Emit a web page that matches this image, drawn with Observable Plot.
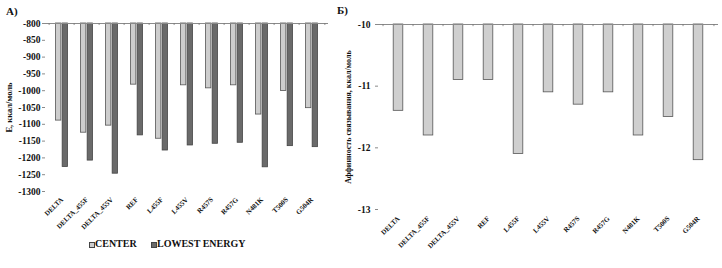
<!DOCTYPE html>
<html>
<head>
<meta charset="utf-8">
<script src="https://cdn.jsdelivr.net/npm/d3@7"></script>
<script src="https://cdn.jsdelivr.net/npm/@observablehq/plot@0.6"></script>
<style>
  html, body { margin: 0; padding: 0; background: #fff; }
  #wrap { position: relative; width: 722px; height: 268px; overflow: hidden; font-family: "Liberation Serif", serif; font-weight: bold; color: #111; }
  #wrap svg { position: absolute; top: 0; }
  .lbl { position: absolute; font-size: 10.5px; white-space: nowrap; }
  .sw { position: absolute; width: 4px; height: 4px; border: 1px solid #444; }
</style>
</head>
<body>
<div id="wrap"></div>
<script>
const categories = ["DELTA","DELTA_455F","DELTA_455V","REF","L455F","L455V","R457S","R457G","N481K","T500S","G504R"];
const seriesNames = ["CENTER","LOWEST ENERGY"];
const centerE = [-1089,-1125,-1104,-982,-1143,-984,-993,-984,-1071,-1001,-1052];
const lowestE = [-1227,-1208,-1247,-1133,-1178,-1163,-1158,-1155,-1228,-1165,-1168];
const affinity = [-11.4,-11.8,-10.9,-10.9,-12.1,-11.1,-11.3,-11.1,-11.8,-11.5,-12.2];
const yTicksA = [-800,-850,-900,-950,-1000,-1050,-1100,-1150,-1200,-1250,-1300];
const yTicksB = [-10,-11,-12,-13];

const wrap = document.getElementById("wrap");
const font = "Liberation Serif, serif";

// ---------- Panel A ----------
const dataA = [];
categories.forEach((c, i) => {
  dataA.push({cat: c, series: seriesNames[0], value: centerE[i]});
  dataA.push({cat: c, series: seriesNames[1], value: lowestE[i]});
});
const wA = 335, mlA = 45, mrA = 7;
const stepA = (wA - mlA - mrA) / categories.length;
const barWA = 6;
const insA = (stepA - barWA) / 2;

const plotA = Plot.plot({
  width: wA, height: 268,
  marginLeft: mlA, marginRight: mrA, marginTop: 23, marginBottom: 77,
  style: {fontFamily: font, fontWeight: "bold", fontSize: "10px", color: "#111", background: "transparent", overflow: "visible"},
  x: {domain: categories, padding: 0, axis: null},
  y: {domain: [-1300, -800], axis: null},
  marks: [
    Plot.barY(dataA.filter(d => d.series === seriesNames[0]), {x: "cat", y1: () => -800, y2: "value", insetLeft: insA, insetRight: insA, dx: -3.3, fill: "#cdcdcd", stroke: "#555", strokeWidth: 0.8}),
    Plot.barY(dataA.filter(d => d.series === seriesNames[1]), {x: "cat", y1: () => -800, y2: "value", insetLeft: insA, insetRight: insA, dx: 3.3, fill: "#6a6a6a", stroke: "#444", strokeWidth: 0.8}),
    Plot.ruleY([-800], {stroke: "#8a8a8a", strokeWidth: 1}),
    Plot.ruleX(categories, {x: d => d, dx: -stepA / 2, y1: () => -800, y2: () => -806, stroke: "#777", strokeWidth: 0.8}),
    Plot.ruleX([categories[categories.length - 1]], {x: d => d, dx: stepA / 2, y1: () => -800, y2: () => -806, stroke: "#777", strokeWidth: 0.8}),
    Plot.axisY({ticks: yTicksA, tickFormat: d => String(d), tickSize: 3, tickPadding: 2, line: true, stroke: "#8a8a8a", fontSize: 9.5, fontWeight: "bold", fill: "#111", label: null}),
    Plot.axisX({anchor: "bottom", tickRotate: -45, tickSize: 0, tickPadding: 7, fontSize: 7, fontWeight: "bold", fill: "#111", label: null}),
    Plot.text(["E, ккал/моль"], {frameAnchor: "left", textAnchor: "middle", rotate: -90, dx: -36, fontSize: 8.5, fontWeight: "bold", fill: "#111"})
  ]
});
plotA.style.left = "0px";
wrap.appendChild(plotA);

// ---------- Panel B ----------
const dataB = categories.map((c, i) => ({cat: c, value: affinity[i]}));
const leftB = 330, wB = 392, mlB = 48, mrB = 4;
const stepB = (wB - mlB - mrB) / categories.length;
const barWB = 10.5;
const insB = (stepB - barWB) / 2;

const plotB = Plot.plot({
  width: wB, height: 268,
  marginLeft: mlB, marginRight: mrB, marginTop: 24, marginBottom: 59,
  style: {fontFamily: font, fontWeight: "bold", fontSize: "10px", color: "#111", background: "transparent", overflow: "visible"},
  x: {domain: categories, padding: 0, axis: null},
  y: {domain: [-13, -10], axis: null},
  marks: [
    Plot.barY(dataB, {x: "cat", y1: () => -10, y2: "value", insetLeft: insB, insetRight: insB, fill: "#cfcfcf", stroke: "#555", strokeWidth: 0.8}),
    Plot.ruleY([-10], {stroke: "#8a8a8a", strokeWidth: 1}),
    Plot.ruleX(categories, {x: d => d, dx: -stepB / 2, y1: () => -10, y2: () => -10.035, stroke: "#777", strokeWidth: 0.8}),
    Plot.ruleX([categories[categories.length - 1]], {x: d => d, dx: stepB / 2, y1: () => -10, y2: () => -10.035, stroke: "#777", strokeWidth: 0.8}),
    Plot.axisY({ticks: yTicksB, tickFormat: d => String(d), tickSize: 3, tickPadding: 5, line: true, stroke: "#8a8a8a", fontSize: 9.5, fontWeight: "bold", fill: "#111", label: null}),
    Plot.axisX({anchor: "bottom", tickRotate: -45, tickSize: 0, tickPadding: 8, fontSize: 7, fontWeight: "bold", fill: "#111", label: null}),
    Plot.text(["Аффинность связывания, ккал/моль"], {frameAnchor: "left", textAnchor: "middle", rotate: -90, dx: -30, fontSize: 8, fontWeight: "bold", fill: "#111"})
  ]
});
plotB.style.left = leftB + "px";
wrap.appendChild(plotB);

// ---------- Panel letters & legend ----------
function addLabel(text, left, top, size) {
  const d = document.createElement("div");
  d.className = "lbl";
  d.textContent = text;
  d.style.left = left + "px";
  d.style.top = top + "px";
  if (size) d.style.fontSize = size + "px";
  wrap.appendChild(d);
  return d;
}
addLabel("А)", 6, 5, 11);
addLabel("Б)", 337, 4, 11);

function addSwatch(left, top, fill) {
  const s = document.createElement("div");
  s.className = "sw";
  s.style.left = left + "px";
  s.style.top = top + "px";
  s.style.background = fill;
  wrap.appendChild(s);
}
addSwatch(89, 242, "#cdcdcd");
addLabel(seriesNames[0], 95, 238, 10);
addSwatch(151, 242, "#6a6a6a");
addLabel(seriesNames[1], 157, 238, 10);
</script>
</body>
</html>
